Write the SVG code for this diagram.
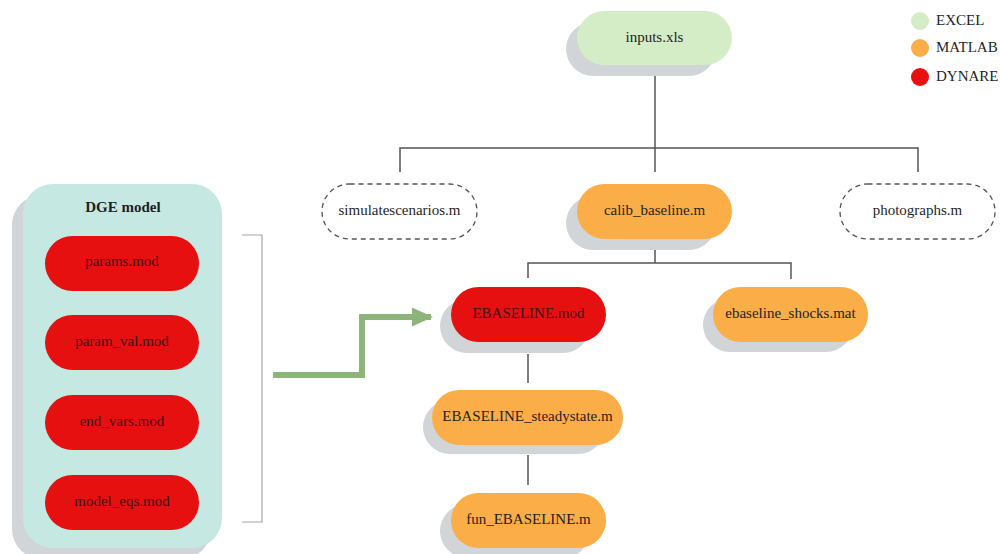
<svg xmlns="http://www.w3.org/2000/svg" width="1000" height="554" viewBox="0 0 1000 554">
<defs>
<style>
text{font-family:"Liberation Serif","Times New Roman",serif;font-size:15px;fill:#1f1f1f;text-anchor:middle;dominant-baseline:central}
.sh{fill:#d1d5d8}
.xl{fill:#d4edc6}
.ml{fill:#fbad47}
.dy{fill:#e5100f}
.dyt{fill:#3a1212}
.dash{fill:#fff;stroke:#555;stroke-width:1.3;stroke-dasharray:5 4}
.con{fill:none;stroke:#555;stroke-width:1.5}
.leg{text-anchor:start;font-size:15px}
</style>
<marker id="ah" viewBox="0 0 10 10" refX="9" refY="5" markerWidth="3.6" markerHeight="3.2" orient="auto" markerUnits="strokeWidth" preserveAspectRatio="none">
<path d="M0,0 L10,5 L0,10 z" fill="#8db57b"/>
</marker>
</defs>
<rect width="1000" height="554" fill="#fff"/>

<g id="connectors">
<path class="con" d="M655,76 V148 M400,172 V148 H918 V172 M655,148 V172"/>
<path class="con" d="M655,250 V263 M528,278 V263 H791 V279"/>
<path class="con" d="M528,354 V383"/>
<path class="con" d="M528,455 V485"/>
<path fill="none" stroke="#a5a5a5" stroke-width="1.2" d="M242,235 H262 V522 H242"/>
<path fill="none" stroke="#8db57b" stroke-width="6" d="M273,375 H362 V317 H431" marker-end="url(#ah)"/>
</g>

<g id="legend">
<circle cx="920" cy="21" r="9" class="xl"/><text class="leg" x="936" y="20">EXCEL</text>
<circle cx="920" cy="48" r="9" class="ml"/><text class="leg" x="936" y="47">MATLAB</text>
<circle cx="920" cy="77" r="9" class="dy"/><text class="leg" x="936" y="76">DYNARE</text>
</g>

<g id="inputs">
<rect class="sh" x="566" y="22" width="150" height="54" rx="27"/>
<rect class="xl" x="577" y="11" width="155" height="54" rx="27"/>
<text x="654.5" y="36.5">inputs.xls</text>
</g>

<g id="simulatescenarios">
<rect class="dash" x="322" y="184" width="155" height="55" rx="27.5"/>
<text x="399.5" y="210">simulatescenarios.m</text>
</g>

<g id="calib_baseline">
<rect class="sh" x="566" y="196" width="150" height="54" rx="27"/>
<rect class="ml" x="577" y="184" width="155" height="55" rx="27.5"/>
<text x="654.5" y="210">calib_baseline.m</text>
</g>

<g id="photographs">
<rect class="dash" x="840" y="184" width="155" height="55" rx="27.5"/>
<text x="917.5" y="210">photographs.m</text>
</g>

<g id="ebaseline_mod">
<rect class="sh" x="440" y="299" width="150" height="54" rx="27"/>
<rect class="dy" x="451" y="287" width="155" height="55" rx="27.5"/>
<text class="dyt" x="528.5" y="313">EBASELINE.mod</text>
</g>

<g id="ebaseline_shocks">
<rect class="sh" x="703" y="298" width="150" height="54" rx="27"/>
<rect class="ml" x="713" y="287" width="155" height="55" rx="27.5"/>
<text x="790.5" y="313">ebaseline_shocks.mat</text>
</g>

<g id="steadystate">
<rect class="sh" x="423" y="400" width="182" height="54" rx="27"/>
<rect class="ml" x="432" y="390" width="191" height="55" rx="27.5"/>
<text x="527.5" y="416">EBASELINE_steadystate.m</text>
</g>

<g id="fun_ebaseline">
<rect class="sh" x="440" y="504" width="150" height="54" rx="27"/>
<rect class="ml" x="451" y="493" width="155" height="55" rx="27.5"/>
<text x="528.5" y="519">fun_EBASELINE.m</text>
</g>

<g id="dge_model">
<rect class="sh" x="12" y="195" width="199" height="364" rx="30"/>
<rect fill="#c5e9e2" x="23" y="184" width="199" height="364" rx="30"/>
<text x="123" y="207" style="font-weight:bold">DGE model</text>
<g id="params">
<rect class="dy" x="45" y="236" width="154" height="55" rx="27.5"/>
<text class="dyt" x="122" y="261">params.mod</text>
</g>
<g id="param_val">
<rect class="dy" x="45" y="315" width="154" height="55" rx="27.5"/>
<text class="dyt" x="122" y="340.5">param_val.mod</text>
</g>
<g id="end_vars">
<rect class="dy" x="45" y="395" width="154" height="55" rx="27.5"/>
<text class="dyt" x="122" y="420.5">end_vars.mod</text>
</g>
<g id="model_eqs">
<rect class="dy" x="45" y="475" width="154" height="55" rx="27.5"/>
<text class="dyt" x="122" y="500.5">model_eqs.mod</text>
</g>
</g>
</svg>
